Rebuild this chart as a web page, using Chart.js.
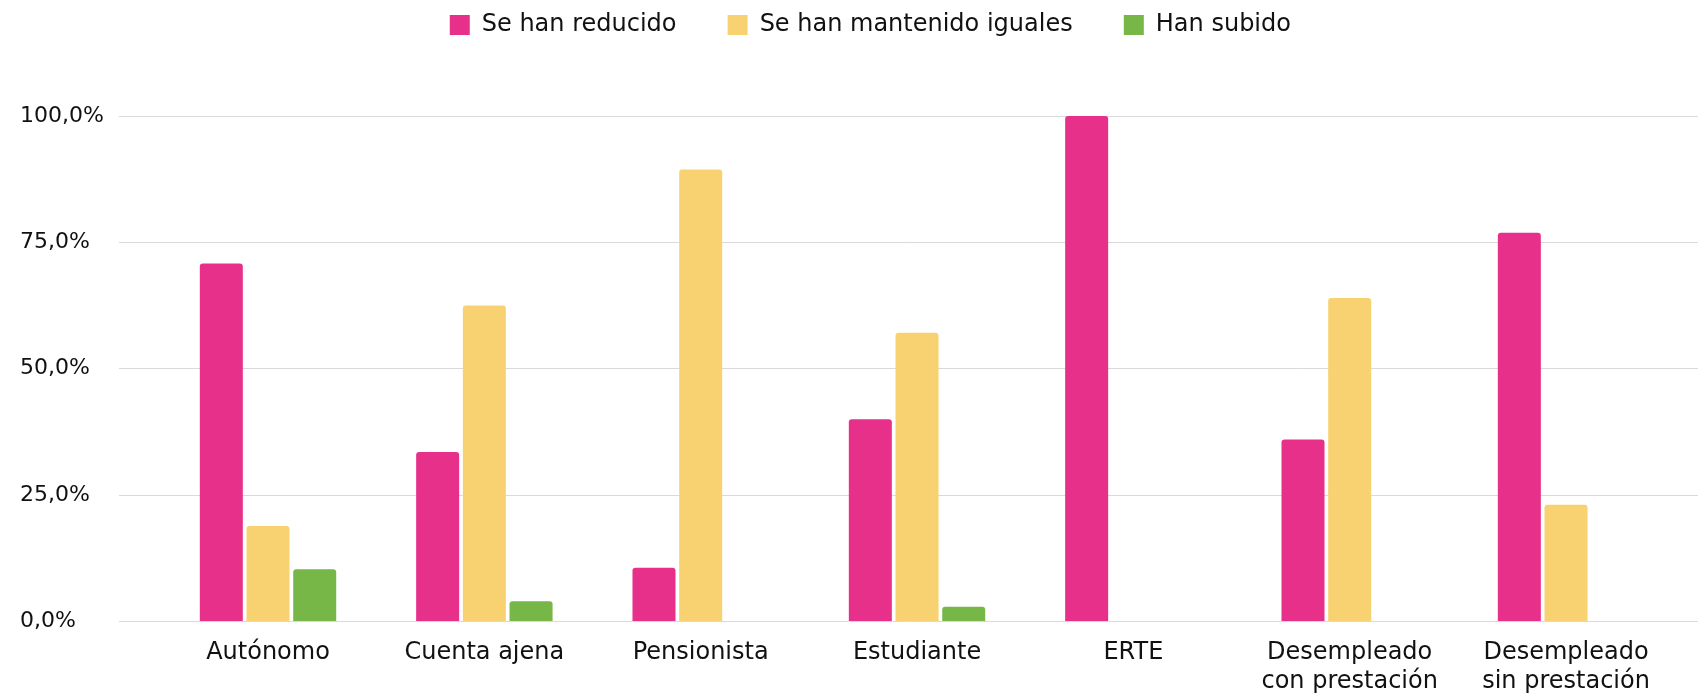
<!DOCTYPE html>
<html>
<head>
<meta charset="utf-8">
<script src="https://cdn.jsdelivr.net/npm/chart.js@4.4.1/dist/chart.umd.min.js"></script>
<style>
  html, body { margin: 0; padding: 0; background: #ffffff; overflow: hidden; }
  canvas { display: block; }
</style>
</head>
<body>
<canvas id="c" width="1698" height="713"></canvas>
<script>
// ---- Data ----
const CATEGORIES = ['Autónomo', 'Cuenta ajena', 'Pensionista', 'Estudiante', 'ERTE',
  ['Desempleado', 'con prestación'], ['Desempleado', 'sin prestación']];
const SERIES_NAMES = ['Se han reducido', 'Se han mantenido iguales', 'Han subido'];
const REDUCIDO  = [70.8, 33.5, 10.6, 40.0, 100.0, 36.0, 76.9];
const IGUALES   = [18.9, 62.5, 89.4, 57.1, 0, 64.0, 23.1];
const SUBIDO    = [10.3, 4.0, 0, 2.9, 0, 0, 0];
const Y_TICKS = [0, 25, 50, 75, 100];
const Y_TICK_LABELS = ['0,0%', '25,0%', '50,0%', '75,0%', '100,0%'];

const COLORS = ['#E7308A', '#F8D270', '#76B748'];
const LEGEND_PAD = ['     ', '     ', '          '];

Chart.defaults.font.family = "'DejaVu Sans', sans-serif";
Chart.defaults.color = '#111111';

const toPoints = arr => arr.map((v, i) => ({ x: i, y: v }));

const legendMargin = {
  id: 'legendMargin',
  beforeInit(chart) {
    const fit = chart.legend.fit;
    chart.legend.fit = function () {
      fit.bind(chart.legend)();
      this.height += 69;
    };
  }
};

new Chart(document.getElementById('c'), {
  type: 'bar',
  data: {
    datasets: [REDUCIDO, IGUALES, SUBIDO].map((vals, k) => ({
      label: SERIES_NAMES[k],
      data: toPoints(vals),
      backgroundColor: COLORS[k],
      borderWidth: 0,
      borderRadius: 3,
      categoryPercentage: 0.6476,
      barPercentage: 0.921
    }))
  },
  options: {
    responsive: false,
    animation: false,
    devicePixelRatio: 1,
    layout: { padding: { left: 119, right: 0, top: 0, bottom: 0 } },
    plugins: {
      tooltip: { enabled: false },
      legend: {
        position: 'top',
        labels: {
          font: { size: 24 },
          padding: 13,
          boxWidth: 20,
          boxHeight: 20,
          color: '#111111',
          generateLabels(chart) {
            return Chart.defaults.plugins.legend.labels.generateLabels(chart)
              .map((it, i) => Object.assign(it, { text: it.text + LEGEND_PAD[i], lineWidth: 0 }));
          }
        }
      }
    },
    scales: {
      x: {
        type: 'linear',
        offset: false,
        min: -0.6888,
        max: 6.610,
        grid: { display: false, drawTicks: false },
        border: { display: false },
        afterBuildTicks(scale) {
          scale.ticks = CATEGORIES.map((_, i) => ({ value: i }));
        },
        ticks: {
          autoSkip: false,
          maxRotation: 0,
          minRotation: 0,
          padding: 17,
          font: { size: 24 },
          color: '#111111',
          callback: v => CATEGORIES[v]
        }
      },
      y: {
        min: 0,
        max: 100,
        afterBuildTicks(scale) {
          scale.ticks = Y_TICKS.map(v => ({ value: v }));
        },
        afterFit(scale) { scale.width = 0; },
        grid: { color: '#D9D9D9', lineWidth: 1, drawTicks: false },
        border: { display: false },
        ticks: {
          mirror: true,
          crossAlign: 'near',
          padding: -99,
          font: { size: 22 },
          color: '#111111',
          callback: v => Y_TICK_LABELS[Y_TICKS.indexOf(v)]
        }
      }
    }
  },
  plugins: [legendMargin]
});
</script>
</body>
</html>
